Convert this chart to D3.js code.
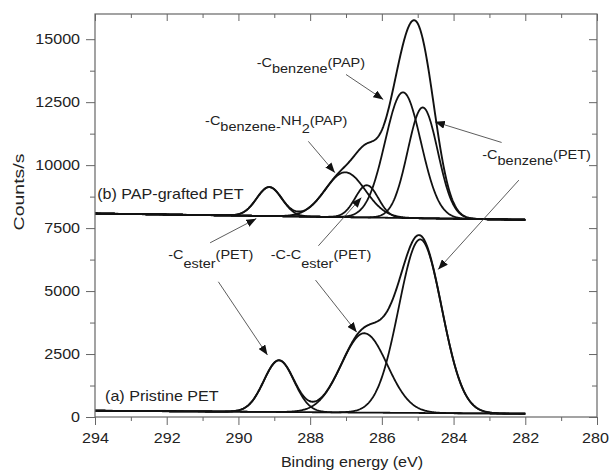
<!DOCTYPE html>
<html><head><meta charset="utf-8">
<script src="https://cdn.jsdelivr.net/npm/d3@7"></script>
<style>body{margin:0;background:#fff} svg{display:block}</style>
</head><body><svg id="chart" width="609" height="470"></svg>
<script>
// ---------- data ----------
const energyTicks = [294, 292, 290, 288, 286, 284, 282, 280];
const energyMinorTicks = [293, 291, 289, 287, 285, 283, 281];
const countTicks = [0, 2500, 5000, 7500, 10000, 12500, 15000];
const countMinorTicks = [1250, 3750, 6250, 8750, 11250, 13750];

const scanRange = [294, 282];

// (a) Pristine PET : linear background at 294 eV and 282 eV, fitted peaks
const pristineBaseline = [250, 130];
const pristinePeaks   = ["-C ester (PET)", "-C-C ester (PET)", "-C benzene (PET)"];
const pristineCenters = [288.87, 286.49, 284.93];
const pristineHeights = [2050, 3150, 6890];
const pristineSigmas  = [0.42, 0.64, 0.6];

// (b) PAP-grafted PET
const graftedBaseline = [8080, 7830];
const graftedPeaks   = ["-C ester (PET)", "-C benzene-NH2 (PAP)", "-C-C ester (PET)", "-C benzene (PAP)", "-C benzene (PET)"];
const graftedCenters = [289.14, 287.02, 286.42, 285.41, 284.86];
const graftedHeights = [1150, 1780, 1280, 4990, 4400];
const graftedSigmas  = [0.35, 0.56, 0.32, 0.5, 0.42];

const spectrumLabels = ["(a) Pristine PET", "(b) PAP-grafted PET"];

// ---------- drawing ----------
const m = {left: 95, right: 597, top: 14, bottom: 417};
const svg = d3.select("#chart");
const FONT = "'Liberation Sans', Arial, sans-serif";
const SX = 1.15;

const x = d3.scaleLinear().domain([294, 280]).range([m.left, m.right]);
const y = d3.scaleLinear().domain([0, 16000]).range([m.bottom, m.top]);

const grid = d3.range(scanRange[0], scanRange[1] - 0.001, -0.02);

function baselineAt(b, e) {
  return b[0] + (b[1] - b[0]) * (scanRange[0] - e) / (scanRange[0] - scanRange[1]);
}
function peakAt(c, h, s, e) { return h * Math.exp(-((e - c) ** 2) / (2 * s * s)); }

const line = d3.line().x(d => x(d[0])).y(d => y(d[1]));

function drawSpectrum(base, centers, heights, sigmas) {
  const g = svg.append("g");
  centers.forEach((c, i) => {
    const pts = grid.map(e => [e, baselineAt(base, e) + peakAt(c, heights[i], sigmas[i], e)]);
    g.append("path").attr("d", line(pts)).attr("fill", "none")
      .attr("stroke", "#111").attr("stroke-width", 1.8).attr("stroke-linejoin", "round");
  });
  const env = grid.map(e => [e, baselineAt(base, e) + d3.sum(centers, (c, i) => peakAt(c, heights[i], sigmas[i], e))]);
  g.append("path").attr("d", line(env)).attr("fill", "none")
    .attr("stroke", "#111").attr("stroke-width", 1.9).attr("stroke-linejoin", "round");
}
drawSpectrum(pristineBaseline, pristineCenters, pristineHeights, pristineSigmas);
drawSpectrum(graftedBaseline, graftedCenters, graftedHeights, graftedSigmas);

// ---------- axes ----------
const axisColor = "#666";
function styleAxis(g) {
  g.select(".domain").remove();
  g.selectAll(".tick line").attr("stroke", axisColor).attr("stroke-width", 1);
  g.selectAll("text").attr("font-family", FONT).attr("font-size", 14).attr("fill", "#222");
}
svg.append("g").attr("transform", `translate(0,${m.bottom})`)
  .call(d3.axisBottom(x).tickValues(energyMinorTicks).tickSize(4).tickFormat(""))
  .call(styleAxis);
const bx = svg.append("g").attr("transform", `translate(0,${m.bottom})`)
  .call(d3.axisBottom(x).tickValues(energyTicks).tickSize(8).tickPadding(8).tickFormat(d3.format("d")))
  .call(styleAxis);
bx.selectAll("text").attr("transform", d => d === 280 ? `translate(-2,0) scale(${SX},1)` : `scale(${SX},1)`);
svg.append("g").attr("transform", `translate(0,${m.top})`)
  .call(d3.axisTop(x).tickValues(energyMinorTicks).tickSize(-4).tickFormat("")).call(styleAxis);
svg.append("g").attr("transform", `translate(0,${m.top})`)
  .call(d3.axisTop(x).tickValues(energyTicks).tickSize(-7).tickFormat("")).call(styleAxis);
svg.append("g").attr("transform", `translate(${m.left},0)`)
  .call(d3.axisLeft(y).tickValues(countMinorTicks).tickSize(5).tickFormat("")).call(styleAxis);
const ly = svg.append("g").attr("transform", `translate(${m.left},0)`)
  .call(d3.axisLeft(y).tickValues(countTicks).tickSize(9).tickPadding(4).tickFormat(d3.format("d")))
  .call(styleAxis);
ly.selectAll("text").attr("transform", `scale(${SX},1)`);
svg.append("g").attr("transform", `translate(${m.right},0)`)
  .call(d3.axisRight(y).tickValues(countMinorTicks).tickSize(-5).tickFormat("")).call(styleAxis);
svg.append("g").attr("transform", `translate(${m.right},0)`)
  .call(d3.axisRight(y).tickValues(countTicks).tickSize(-8).tickFormat("")).call(styleAxis);
svg.append("rect").attr("x", m.left).attr("y", m.top)
  .attr("width", m.right - m.left).attr("height", m.bottom - m.top)
  .attr("fill", "none").attr("stroke", axisColor).attr("stroke-width", 1.2);

svg.append("text").attr("transform", `translate(352,467) scale(${SX},1)`)
  .attr("text-anchor", "middle").attr("font-family", FONT).attr("font-size", 14).attr("fill", "#222")
  .text("Binding energy (eV)");
svg.append("text").attr("transform", `translate(24,192) rotate(-90) scale(1.3,1)`)
  .attr("text-anchor", "middle").attr("font-family", FONT).attr("font-size", 15).attr("fill", "#222")
  .text("Counts/s");

function plainLabel(txt, e, c) {
  svg.append("text").attr("transform", `translate(${x(e)},${y(c)}) scale(${SX},1)`)
    .attr("font-family", FONT).attr("font-size", 14).attr("fill", "#222").text(txt);
}
plainLabel(spectrumLabels[0], 293.72, 635);
plainLabel(spectrumLabels[1], 293.94, 8650);

// ---------- peak annotations ----------
const FS = 12.6;
function richLabel(parts, e, c) {
  const t = svg.append("text").attr("transform", `translate(${x(e)},${y(c)}) scale(${SX},1)`)
    .attr("font-family", FONT).attr("font-size", FS).attr("fill", "#222");
  let cur = 0;
  parts.forEach(([s, off]) => {
    t.append("tspan").attr("dy", off - cur).text(s);
    cur = off;
  });
}
svg.append("defs").append("marker").attr("id", "ah").attr("viewBox", "0 0 10 8")
  .attr("refX", 10).attr("refY", 4).attr("markerWidth", 10).attr("markerHeight", 8)
  .attr("markerUnits", "userSpaceOnUse").attr("orient", "auto")
  .append("path").attr("d", "M0,0 L10,4 L0,8 Z").attr("fill", "#111");
function arrow(from, to) {
  svg.append("line").attr("x1", x(from[0])).attr("y1", y(from[1]))
    .attr("x2", x(to[0])).attr("y2", y(to[1]))
    .attr("stroke", "#333").attr("stroke-width", 0.8).attr("marker-end", "url(#ah)");
}

richLabel([["-C", 0], ["benzene", 6], ["(PAP)", 0]], 289.49, 13900);
arrow([287.0, 13599], [285.96, 12606]);

richLabel([["-C", 0], ["benzene-", 6], ["NH", 0], ["2", 8], ["(PAP)", 0]], 290.93, 11587);
arrow([288.05, 10944], [287.31, 9702]);

richLabel([["-C", 0], ["benzene", 6], ["(PET)", 0]], 283.2, 10226);
arrow([282.66, 10900], [284.52, 11718]);
arrow([282.18, 9404], [284.43, 5861]);

richLabel([["-C", 0], ["ester", 8.5], ["(PET)", 0]], 291.96, 6257);
arrow([290.79, 6916], [289.5, 7876]);
arrow([290.56, 5369], [289.19, 2460]);

richLabel([["-C-C", 0], ["ester", 8.5], ["(PET)", 0]], 289.1, 6257);
arrow([287.77, 6797], [286.57, 8710]);
arrow([287.85, 5436], [286.7, 3365]);
</script></body></html>
